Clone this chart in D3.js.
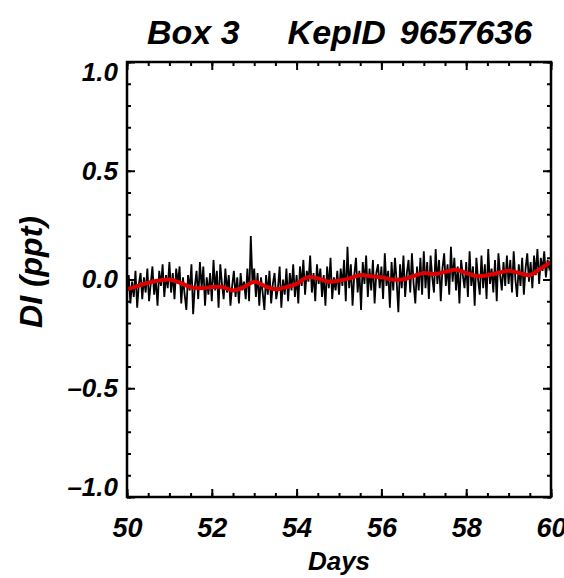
<!DOCTYPE html>
<html lang="en">
<head>
<meta charset="UTF-8">
<title>Box 3 KepID 9657636</title>
<script src="https://d3js.org/d3.v7.min.js"></script>
<style>
  body { margin: 0; background: #fff; }
  svg text { font-family: "Liberation Sans", Arial, sans-serif; font-weight: bold; font-style: italic; fill: #000; }
</style>
</head>
<body>
<svg id="chart" width="564" height="578"></svg>
<script>
// light curve, one value every 0.04 d starting at day 50 (one row = one day)
var startDay = 50, cadence = 0.04;
var fluxValues = [
  -0.05, 0.02, -0.11, -0.01, -0.08, 0.04, -0.13, -0.02, 0.03, -0.09, 0.01, -0.06, 0.05, -0.10, -0.02, 0.06, -0.07, 0.00, -0.12, 0.04, -0.03, 0.07, -0.08, 0.02, -0.04,
  0.08, -0.06, 0.03, -0.09, 0.05, -0.02, 0.06, -0.11, 0.01, -0.07, -0.14, 0.02, -0.05, 0.07, -0.16, -0.03, 0.04, -0.09, 0.08, -0.04, 0.06, -0.12, 0.01, -0.07, 0.03,
  -0.10, 0.09, -0.05, 0.04, -0.13, 0.07, -0.02, -0.09, 0.05, -0.06, 0.02, -0.12, -0.03, 0.04, -0.08, 0.01, -0.11, 0.03, -0.05, -0.01, -0.09, 0.05, -0.10, 0.20, -0.02,
  0.05, -0.08, 0.03, -0.12, 0.01, -0.06, -0.14, 0.02, -0.07, 0.04, -0.11, -0.02, 0.03, -0.09, -0.04, 0.06, -0.13, 0.00, -0.07, 0.05, -0.10, 0.03, -0.05, 0.07, -0.08,
  0.02, -0.11, 0.06, -0.03, 0.09, -0.07, 0.04, -0.01, 0.11, -0.06, 0.03, -0.10, 0.07, -0.02, 0.05, -0.08, 0.02, -0.12, 0.06, -0.04, 0.10, -0.09, 0.01, -0.05, 0.04,
  -0.07, 0.05, -0.03, 0.09, -0.10, 0.15, -0.04, 0.07, -0.12, 0.02, 0.10, -0.06, 0.04, -0.14, 0.08, -0.02, 0.11, -0.08, 0.05, -0.05, 0.09, -0.11, 0.03, 0.07, -0.04,
  0.06, -0.09, 0.12, -0.03, 0.04, -0.13, 0.08, -0.05, 0.10, -0.01, -0.15, 0.07, -0.04, 0.11, -0.08, 0.03, 0.09, -0.06, 0.12, -0.02, -0.11, 0.06, -0.05, 0.10, -0.07,
  0.13, -0.04, 0.08, -0.09, 0.11, 0.01, -0.06, 0.14, -0.02, 0.09, -0.10, 0.05, 0.12, -0.03, 0.07, -0.07, 0.15, -0.01, 0.10, -0.05, 0.06, -0.11, 0.09, 0.02, -0.04,
  0.08, -0.08, 0.13, -0.03, 0.06, -0.12, 0.10, 0.00, -0.07, 0.11, -0.04, 0.07, -0.09, 0.14, -0.02, 0.05, -0.06, 0.09, -0.10, 0.12, 0.02, -0.05, 0.08, -0.03, 0.11,
  -0.02, 0.09, -0.06, 0.13, 0.00, -0.08, 0.07, -0.03, 0.10, -0.07, 0.05, 0.12, -0.01, 0.08, -0.04, 0.11, 0.02, 0.14, -0.02, 0.10, 0.04, 0.13, 0.01, 0.09, 0.05,
  0.07
];

// smoothed curve (red), every 0.25 d
var smoothDays = [50, 50.25, 50.5, 50.75, 51, 51.25, 51.5, 51.75, 52, 52.25, 52.5, 52.75, 53, 53.25, 53.5, 53.75,
  54, 54.25, 54.5, 54.75, 55, 55.25, 55.5, 55.75, 56, 56.25, 56.5, 56.75, 57, 57.25, 57.5, 57.75,
  58, 58.25, 58.5, 58.75, 59, 59.25, 59.5, 59.75, 60];
var smoothValues = [-0.045, -0.03, -0.015, -0.005, 0.0, -0.015, -0.035, -0.04, -0.035, -0.035, -0.05, -0.035, -0.01, -0.03, -0.045, -0.035,
  -0.02, 0.01, 0.005, -0.01, -0.005, 0.005, 0.02, 0.015, 0.01, 0.0, 0.0, 0.015, 0.03, 0.025, 0.035, 0.045,
  0.03, 0.015, 0.02, 0.03, 0.04, 0.03, 0.02, 0.05, 0.08];

var xTicks = [50, 52, 54, 56, 58, 60];
var xMinor = d3.range(50, 60.01, 0.5);
var yTicks = [-1.0, -0.5, 0.0, 0.5, 1.0];
var yMinor = d3.range(-1.0, 1.001, 0.1);

var titleParts = ["Box 3", "KepID", "9657636"];
var xLabel = "Days";
var yLabel = "DI (ppt)";

var svg = d3.select("#chart");
var plotL = 127, plotR = 551, plotT = 62, plotB = 497;

var x = d3.scaleLinear().domain([50, 60]).range([plotL, plotR]);
var y = d3.scaleLinear().domain([-1, 1]).range([plotB, plotT]);

var fmt = function(d) { return d < 0 ? "\u2013" + Math.abs(d).toFixed(1) : d.toFixed(1); };

// minor ticks on all four sides
svg.append("g").attr("transform", "translate(0," + plotB + ")")
  .call(d3.axisBottom(x).tickValues(xMinor).tickSize(-4).tickFormat(""));
svg.append("g").attr("transform", "translate(0," + plotT + ")")
  .call(d3.axisTop(x).tickValues(xMinor).tickSize(-4).tickFormat(""));
svg.append("g").attr("transform", "translate(" + plotL + ",0)")
  .call(d3.axisLeft(y).tickValues(yMinor).tickSize(-4).tickFormat(""));
svg.append("g").attr("transform", "translate(" + plotR + ",0)")
  .call(d3.axisRight(y).tickValues(yMinor).tickSize(-4).tickFormat(""));

// major ticks
var xAxis = svg.append("g").attr("transform", "translate(0," + plotB + ")")
  .call(d3.axisBottom(x).tickValues(xTicks).tickSizeInner(-8).tickSizeOuter(0).tickPadding(21).tickFormat(d3.format("d")));
svg.append("g").attr("transform", "translate(0," + plotT + ")")
  .call(d3.axisTop(x).tickValues(xTicks).tickSizeInner(-8).tickSizeOuter(0).tickFormat(""));
var yAxis = svg.append("g").attr("transform", "translate(" + plotL + ",0)")
  .call(d3.axisLeft(y).tickValues(yTicks).tickSizeInner(-8).tickSizeOuter(0).tickPadding(9).tickFormat(fmt));
svg.append("g").attr("transform", "translate(" + plotR + ",0)")
  .call(d3.axisRight(y).tickValues(yTicks).tickSizeInner(-8).tickSizeOuter(0).tickFormat(""));

svg.selectAll("path.domain").remove();
svg.selectAll(".tick line").attr("stroke", "#000").attr("stroke-width", 2);

xAxis.selectAll("text").style("font-size", "27px");
yAxis.selectAll("text").style("font-size", "26px");
// end labels sit inside the frame like the original
yAxis.selectAll(".tick text").filter(function(d) { return d === 1; }).attr("dy", "0.7em");
yAxis.selectAll(".tick text").filter(function(d) { return d === -1; }).attr("dy", "-0.05em");

// data lines
var pts = fluxValues.map(function(v, i) { return [startDay + i * cadence, v]; });
var line = d3.line().x(function(d) { return x(d[0]); }).y(function(d) { return y(d[1]); });

svg.append("path").datum(pts)
  .attr("d", line).attr("fill", "none").attr("stroke", "#000").attr("stroke-width", 1.8);

svg.append("path").datum(smoothDays.map(function(d, i) { return [d, smoothValues[i]]; }))
  .attr("d", line.curve(d3.curveCatmullRom)).attr("fill", "none").attr("stroke", "#e00000").attr("stroke-width", 4);

// frame
svg.append("rect").attr("x", plotL).attr("y", plotT).attr("width", plotR - plotL).attr("height", plotB - plotT)
  .attr("fill", "none").attr("stroke", "#000").attr("stroke-width", 2.5);

// title
var title = svg.append("text").attr("x", 147).attr("y", 44).style("font-size", "34px");
title.append("tspan").text(titleParts[0]);
title.append("tspan").attr("dx", 48).text(titleParts[1]);
title.append("tspan").attr("dx", 14).text(titleParts[2]);

svg.append("text").attr("x", (plotL + plotR) / 2).attr("y", 570).attr("text-anchor", "middle")
  .style("font-size", "26px").text(xLabel);

// y title is partly cut off at the left in the original
svg.append("clipPath").attr("id", "ylabClip")
  .append("rect").attr("x", 19).attr("y", 0).attr("width", 100).attr("height", 578);
svg.append("g").attr("clip-path", "url(#ylabClip)")
  .append("text").attr("transform", "translate(42,272) rotate(-90)").attr("text-anchor", "middle")
  .style("font-size", "32px").text(yLabel);
</script>
</body>
</html>
